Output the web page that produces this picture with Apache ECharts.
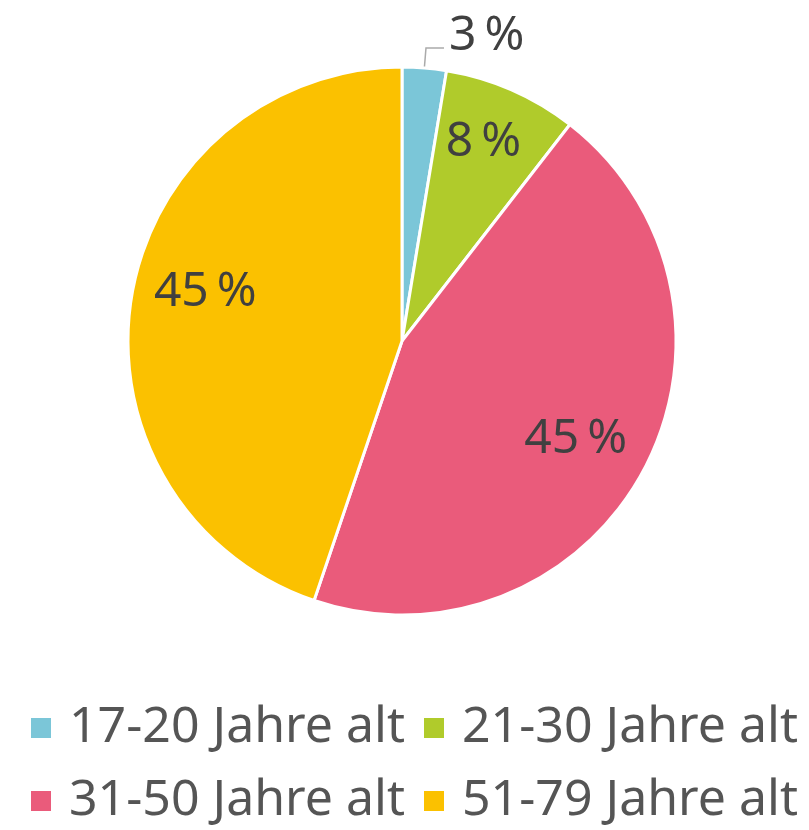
<!DOCTYPE html>
<html>
<head>
<meta charset="utf-8">
<script src="https://cdn.jsdelivr.net/npm/echarts@6/dist/echarts.min.js"></script>
<style>
  html, body { margin: 0; padding: 0; background: #fff; }
  #chart { width: 809px; height: 830px; }
</style>
</head>
<body>
<div id="chart"></div>
<script>
const categories = ['17-20 Jahre alt', '21-30 Jahre alt', '31-50 Jahre alt', '51-79 Jahre alt']
const shares = [2.6, 7.9, 44.7, 44.8]
const colors = ['#7bc6d8', '#b0cb2b', '#ea5b7b', '#fbc100']

const chart = echarts.init(document.getElementById('chart'))
const font = '"Noto Sans", sans-serif'
// narrow no-break space between number and percent sign
const pct = (p) => Math.round(p.value) + '\u202f%'

const pieData = categories.map((name, i) => ({ name, value: shares[i] }))

// one legend per cell so the two columns line up
const legendSlots = [
  { left: 24, top: 698 },
  { left: 417, top: 698 },
  { left: 24, top: 771 },
  { left: 417, top: 771 }
]
const legends = categories.map((name, i) => ({
  left: legendSlots[i].left,
  top: legendSlots[i].top,
  itemWidth: 22,
  itemHeight: 22,
  icon: 'rect',
  selectedMode: false,
  textStyle: { fontFamily: font, fontSize: 50, color: '#555', padding: [0, 0, 0, 12] },
  data: [name]
}))

// small nudges so the inside labels sit where the original put them
const labelNudge = [null, [-2, -8], [-10, 0], [9, -15]]

const option = {
  color: colors,
  animation: false,
  legend: legends,
  series: [
    {
      type: 'pie',
      center: [402, 341],
      radius: 274,
      startAngle: 90,
      avoidLabelOverlap: false,
      itemStyle: { borderColor: '#fff', borderWidth: 3 },
      label: { show: false },
      labelLine: { show: false },
      emphasis: { disabled: true },
      data: pieData.map((d, i) => i === 0 ? {
        ...d,
        label: {
          show: true,
          position: 'outside',
          // empty second line lifts the number above the leader line
          formatter: (p) => '{v|' + pct(p) + '}\n{s|}',
          rich: {
            v: { fontFamily: font, fontSize: 48, color: '#404040', lineHeight: 52 },
            s: { height: 24, lineHeight: 24 }
          }
        },
        labelLine: { show: true, length: 20, length2: 18, lineStyle: { color: '#aaa', width: 1.5 } }
      } : d)
    },
    {
      // label ring: places the inside labels at 3/4 of the radius
      type: 'pie',
      center: [402, 341],
      radius: [137, 274],
      startAngle: 90,
      silent: true,
      itemStyle: { color: 'rgba(0,0,0,0)' },
      label: {
        show: true,
        position: 'inside',
        formatter: pct,
        fontFamily: font,
        fontSize: 48,
        color: '#404040'
      },
      labelLine: { show: false },
      data: pieData.map((d, i) => i === 0
        ? { ...d, label: { show: false } }
        : { ...d, label: { offset: labelNudge[i] } })
    }
  ]
}
chart.setOption(option)
</script>
</body>
</html>
